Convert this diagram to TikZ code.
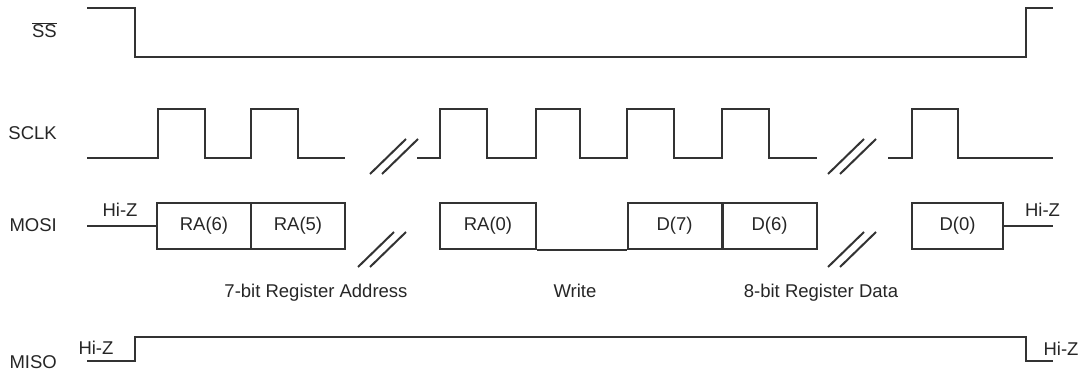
\documentclass[tikz,border=0pt]{standalone}
\usepackage{fontspec}
\setmainfont{Liberation Sans}
\tikzset{
    wave/.style    = { draw=black!80, line width=2pt, line join=miter },
    bitbox/.style  = { rectangle, draw=black!80, line width=2pt, inner sep=0pt,
	minimum width=94pt, minimum height=46pt, text=black!85,
	font=\fontsize{18.5}{20}\selectfont },
	brk/.style     = { draw=black!80, line width=2pt },
	sig/.style     = { anchor=base east, inner sep=0pt, text=black!85,
	font=\fontsize{18.5}{20}\selectfont },
	lbl/.style     = { anchor=base, inner sep=0pt, text=black!85,
	font=\fontsize{18.5}{20}\selectfont },
}

\begin{document}
\begin{tikzpicture}[x=1pt,y=-1pt]
				\useasboundingbox (0,0) rectangle (1081,374);
				% signal names
				\node[sig] (nss)   at (57,38)  {\ensuremath{\overline{\mbox{SS}}}};
				\node[sig] (nsclk) at (57,140) {SCLK};
				\node[sig] (nmosi) at (57,231) {MOSI};
				\node[sig] (nmiso) at (57,368) {MISO};
				% slave select
				\draw[wave] (87,8) -- (135,8) -- (135,57) -- (1026,57) -- (1026,8) -- (1053,8);
				% clock
				\draw[wave] (87,158) foreach \r/\f in {158/205, 251/298} { -- (\r,158) -- (\r,109) -- (\f,109) -- (\f,158) } -- (345,158);
				\draw[wave] (417,158) foreach \r/\f in {440/487, 536/580, 627/674, 722/769} { -- (\r,158) -- (\r,109) -- (\f,109) -- (\f,158) } -- (817,158);
				\draw[wave] (888,158) -- (912,158) -- (912,109) -- (958,109) -- (958,158) -- (1053,158);
				% data in
				\node[bitbox] (ra6) at (204,226) {RA(6)};
				\node[bitbox] (ra5) at (298,226) {RA(5)};
				\node[bitbox, minimum width=96pt] (ra0) at (488,226) {RA(0)};
				\node[bitbox] (d7)  at (674.5,226) {D(7)};
				\node[bitbox] (d6)  at (769.5,226) {D(6)};
				\node[bitbox, minimum width=91pt] (d0) at (957.5,226) {D(0)};
				\coordinate (mosiL) at (87,226);
				\coordinate (mosiR) at (1053,226);
				\draw[wave] (mosiL) -- (ra6.west);
				\draw[wave] (ra0.south east) -- (d7.south west);
				\draw[wave] (d0.east) -- (mosiR);
				\node[lbl] (hz1) at (120,216) {Hi-Z};
				\node[lbl] (hz2) at (1042.5,216) {Hi-Z};
				% data out
				\draw[wave] (87,361) -- (135,361) -- (135,337) -- (1026,337) -- (1026,361) -- (1053,361);
				\node[lbl] (hz3) at (96,354) {Hi-Z};
				\node[lbl] (hz4) at (1061,355) {Hi-Z};
				% breaks
				\foreach \x/\y in {370/139, 828/139, 358/232, 828/232} {
					\draw[brk] (\x,\y+35) -- ++(36,-35);
					\draw[brk] (\x+12,\y+35) -- ++(36,-35);
				}
				% field names
				\node[lbl] (fadr) at (316,297.5) {7-bit Register Address};
				\node[lbl] (fwr)  at (575,297.5) {Write};
				\node[lbl] (fdat) at (821,297.5) {8-bit Register Data};
\end{tikzpicture}
\end{document}
